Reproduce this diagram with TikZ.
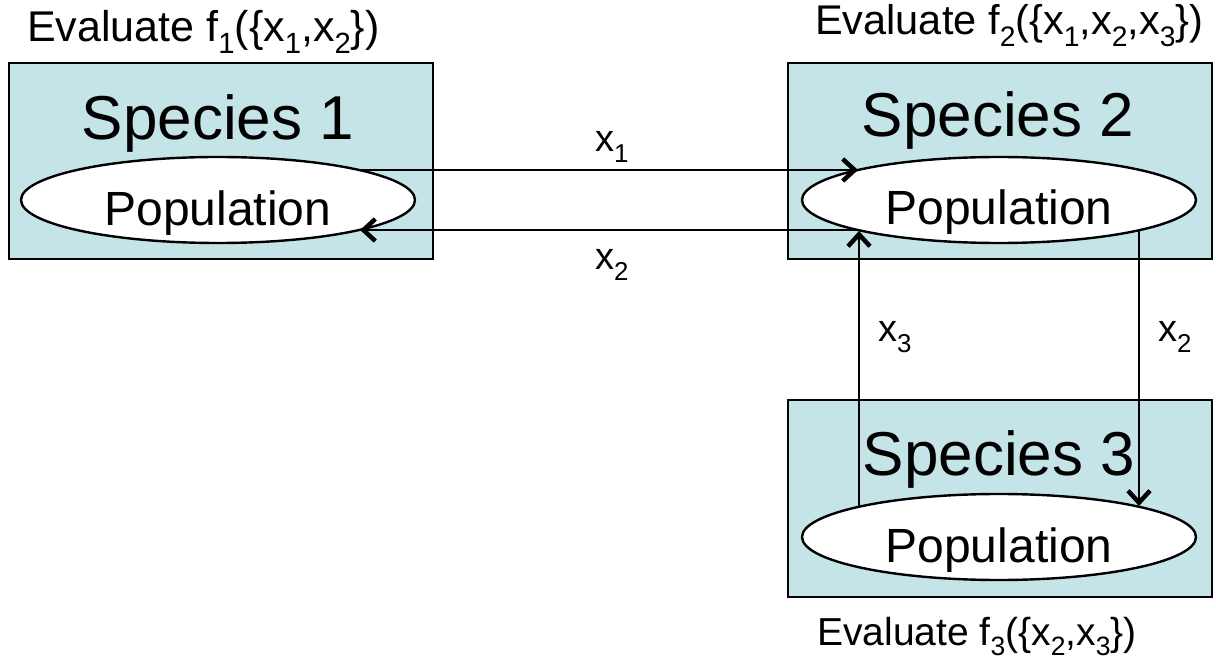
\documentclass[tikz,border=0pt]{standalone}
\usepackage{fontspec}
\setmainfont{Liberation Sans}
\usetikzlibrary{shapes.geometric,arrows.meta,calc}
\definecolor{boxfill}{RGB}{196,228,232}
\newcommand\sbs[1]{\raisebox{-0.27em}{\fontsize{0.68em}{0.68em}\selectfont #1}}
\tikzset{
  speciesbox/.style={draw=black,line width=2.4pt,fill=boxfill,rectangle,minimum width=424pt,minimum height=196pt,inner sep=0pt},
  popell/.style={draw=black,line width=2.4pt,fill=white,ellipse,minimum width=394pt,minimum height=86pt,inner sep=0pt},
  spectext/.style={anchor=base,font=\fontsize{62}{62}\selectfont,inner sep=0pt},
  poptext/.style={anchor=base,font=\fontsize{48}{48}\selectfont,inner sep=0pt},
  evaltext/.style={anchor=base west,inner sep=0pt},
  xlab/.style={anchor=base west,font=\fontsize{38}{38}\selectfont,inner sep=0pt},
  conn/.style={line width=2.4pt,-{Straight Barb[length=12pt,width=22pt,line width=4.5pt]}}
}
\begin{document}
\begin{tikzpicture}[x=1pt,y=-1pt]
\useasboundingbox (0,0) rectangle (1216,660);
% boxes
\node[speciesbox] (b1) at (221,161) {};
\node[speciesbox] (b2) at (1000,161) {};
\node[speciesbox,minimum height=197pt] (b3) at (1000,498.5) {};
% species titles
\node[spectext] (s1) at (218,140) {Species 1};
\node[spectext] (s2) at (998,137) {Species 2};
\node[spectext] (s3) at (999,475) {Species 3};
% ellipses
\node[popell] (e1) at (218,200) {};
\node[popell] (e2) at (999,200) {};
\node[popell] (e3) at (999,537) {};
\node[poptext] (p1) at (218,226) {Population};
\node[poptext] (p2) at (999,225) {Population};
\node[poptext] (p3) at (999,562) {Population};
% evaluate labels
\node[evaltext,font=\fontsize{43}{43}\selectfont] (ev1) at (27,42) {Evaluate f\sbs{1}(\{x\sbs{1},x\sbs{2}\})};
\node[evaltext,font=\fontsize{41.5}{41.5}\selectfont] (ev2) at (815,35) {Evaluate f\sbs{2}(\{x\sbs{1},x\sbs{2},x\sbs{3}\})};
\node[evaltext,font=\fontsize{39}{39}\selectfont] (ev3) at (817,645) {Evaluate f\sbs{3}(\{x\sbs{2},x\sbs{3}\})};
% connectors
\draw[conn] ($(e1.center)+(142,-30)$) -- ($(e2.center)+(-141,-30)$);
\draw[conn] ($(e2.center)+(-141,30)$) -- ($(e1.center)+(142,30)$);
\draw[conn] ($(e3.center)+(-140,-31)$) -- ($(e2.center)+(-140,31)$);
\draw[conn] ($(e2.center)+(140,31)$) -- ($(e3.center)+(140,-31)$);
% connector labels
\node[xlab] (l1) at (595,152) {x\sbs{1}};
\node[xlab] (l2) at (595,270) {x\sbs{2}};
\node[xlab] (l3) at (878,342) {x\sbs{3}};
\node[xlab] (l4) at (1158,342) {x\sbs{2}};
\end{tikzpicture}
\end{document}
